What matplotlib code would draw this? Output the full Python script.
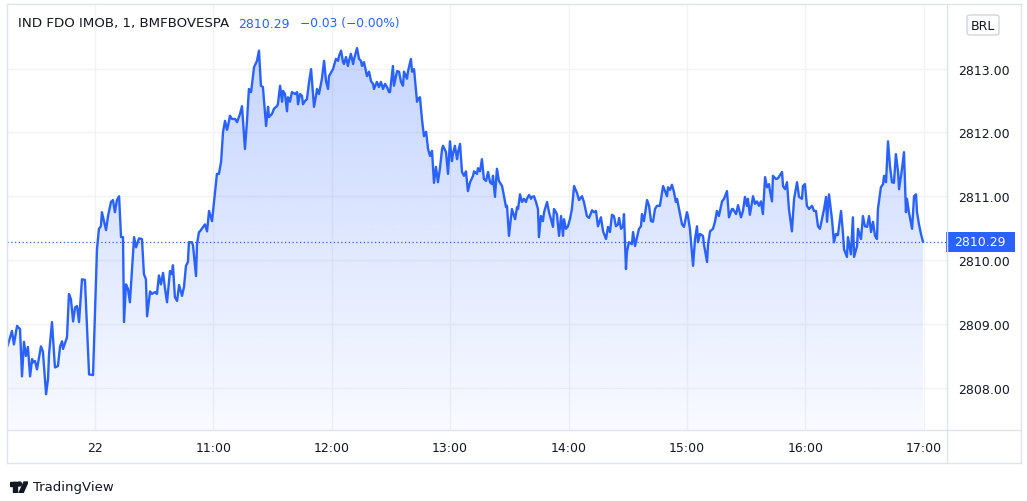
import numpy as np
import matplotlib
matplotlib.use("Agg")
import matplotlib.pyplot as plt
from matplotlib.patches import Rectangle, FancyBboxPatch

# minutes relative to 10:00 on the 22nd (previous session squeezed in on the left)
minutes = [
    -44.6, -44.1, -42.1, -41.1, -39.5, -38.0, -37.0, -36.0, -35.0, -34.0,
    -32.9, -31.9, -31.4, -30.4, -29.4, -27.4, -26.4, -24.8, -23.8, -23.3,
    -21.8, -20.3, -18.8, -17.7, -16.7, -16.2, -14.2, -13.2, -12.2, -11.1,
    -10.1, -9.1, -8.1, -6.6, -5.1, -3.0, -1.0, 1.0, 2.0, 3.0,
    3.5, 4.6, 5.6, 6.6, 8.1, 9.1, 10.1, 11.1, 12.2, 13.2,
    14.2, 14.7, 15.7, 16.7, 17.7, 19.8, 20.8, 22.3, 23.8, 24.8,
    25.8, 26.4, 27.9, 28.9, 30.4, 31.4, 32.4, 33.4, 34.5, 35.5,
    36.5, 38.0, 39.0, 39.5, 40.5, 41.6, 42.6, 44.1, 45.1, 46.1,
    47.1, 47.6, 49.2, 49.7, 51.2, 51.7, 52.7, 53.2, 55.7, 56.8,
    57.8, 59.3, 60.3, 61.8, 62.8, 63.9, 64.9, 65.9, 66.9, 67.4,
    68.4, 69.4, 71.0, 72.0, 73.5, 74.5, 76.0, 77.0, 78.0, 79.1,
    80.6, 82.1, 83.1, 84.1, 85.1, 86.7, 87.7, 88.2, 89.7, 90.7,
    92.2, 92.7, 93.8, 94.8, 95.3, 96.3, 97.3, 97.8, 98.8, 99.8,
    101.4, 102.4, 102.9, 103.9, 104.9, 105.4, 106.4, 107.4, 108.5, 109.5,
    111.0, 112.0, 112.5, 113.5, 115.0, 116.1, 117.1, 118.1, 118.6, 120.1,
    120.6, 122.1, 123.2, 123.7, 124.7, 125.7, 126.2, 127.2, 128.2, 128.7,
    129.7, 130.8, 131.3, 132.8, 133.8, 134.8, 135.3, 136.3, 137.3, 137.8,
    138.9, 139.9, 140.9, 141.4, 142.9, 143.9, 144.9, 146.0, 147.0, 148.0,
    149.0, 149.5, 151.0, 151.5, 153.1, 154.1, 155.1, 156.1, 156.6, 158.1,
    158.6, 160.1, 160.7, 161.7, 163.2, 163.7, 164.7, 165.7, 166.7, 167.8,
    168.8, 169.8, 170.8, 171.8, 172.8, 173.8, 174.8, 175.9, 176.4, 177.9,
    178.9, 179.9, 180.9, 181.4, 182.4, 183.5, 184.0, 185.0, 186.0, 187.0,
    188.0, 189.0, 190.1, 191.6, 192.1, 193.6, 194.1, 195.1, 196.1, 197.1,
    198.2, 199.2, 200.2, 201.2, 201.7, 202.7, 203.7, 204.7, 206.3, 207.3,
    208.3, 208.8, 209.8, 211.3, 211.8, 212.9, 213.9, 214.4, 215.4, 216.4,
    217.4, 218.4, 218.9, 220.0, 221.0, 221.5, 222.5, 223.5, 224.5, 225.0,
    226.0, 227.0, 227.6, 229.1, 230.1, 231.1, 232.1, 232.6, 233.6, 234.1,
    235.2, 236.2, 237.2, 237.7, 238.7, 239.7, 240.7, 241.7, 242.8, 244.3,
    245.3, 246.8, 247.8, 249.3, 250.4, 251.9, 252.9, 253.9, 254.9, 256.4,
    257.5, 259.0, 260.0, 261.0, 262.0, 263.0, 264.0, 265.1, 265.6, 266.6,
    267.6, 268.1, 269.1, 269.6, 270.6, 272.1, 272.7, 273.7, 274.7, 275.7,
    276.7, 277.2, 278.2, 279.8, 280.8, 281.8, 282.8, 283.8, 284.8, 286.3,
    287.9, 288.9, 289.9, 290.4, 291.4, 292.4, 293.4, 294.4, 295.0, 296.0,
    297.5, 298.5, 300.0, 300.5, 301.5, 303.1, 304.1, 305.1, 305.6, 306.6,
    308.1, 308.6, 310.2, 310.7, 311.7, 313.2, 314.2, 315.2, 316.2, 317.8,
    318.8, 320.3, 321.3, 322.8, 323.3, 324.9, 325.9, 327.4, 328.4, 329.4,
    330.4, 330.9, 331.9, 333.5, 334.5, 335.5, 336.5, 337.5, 338.5, 339.6,
    340.6, 341.6, 342.1, 343.1, 343.6, 345.1, 346.1, 348.2, 348.7, 349.7,
    350.7, 351.7, 353.2, 354.3, 355.8, 356.8, 358.3, 358.8, 359.8, 360.8,
    361.9, 363.4, 364.4, 365.4, 366.4, 367.4, 368.4, 369.5, 370.5, 371.0,
    372.0, 373.5, 374.5, 375.5, 376.5, 378.1, 379.1, 379.6, 381.1, 381.6,
    383.1, 384.1, 384.7, 386.2, 386.7, 388.2, 389.2, 390.2, 391.3, 392.3,
    393.3, 394.3, 395.3, 396.3, 396.8, 398.3, 399.4, 399.9, 400.9, 401.9,
    402.9, 403.9, 404.9, 405.9, 407.0, 407.5, 409.0, 410.0, 411.0, 411.5,
    412.5, 414.1, 415.1, 416.1, 416.6, 417.6, 418.6, 419.6,
]

prices = [
    2808.64, 2808.68, 2808.89, 2808.68, 2808.97, 2808.92, 2808.18, 2808.72, 2808.50, 2808.64,
    2808.18, 2808.45, 2808.40, 2808.42, 2808.29, 2808.65, 2808.57, 2807.90, 2808.14, 2808.53,
    2809.03, 2808.32, 2808.34, 2808.65, 2808.73, 2808.61, 2808.79, 2809.47, 2809.39, 2809.04,
    2809.26, 2809.28, 2809.03, 2809.70, 2809.69, 2808.21, 2808.20, 2810.17, 2810.49, 2810.53,
    2810.75, 2810.60, 2810.47, 2810.69, 2810.91, 2810.94, 2810.75, 2810.94, 2811.00, 2810.36,
    2810.36, 2809.03, 2809.62, 2809.55, 2809.34, 2810.36, 2810.20, 2810.34, 2810.33, 2809.78,
    2809.70, 2809.12, 2809.51, 2809.47, 2809.50, 2809.47, 2809.76, 2809.62, 2809.80, 2809.55,
    2809.34, 2809.83, 2809.78, 2809.92, 2809.42, 2809.36, 2809.61, 2809.44, 2809.58, 2809.91,
    2809.97, 2810.28, 2810.28, 2810.22, 2809.75, 2810.25, 2810.44, 2810.45, 2810.56, 2810.45,
    2810.77, 2810.61, 2810.91, 2811.35, 2811.35, 2811.54, 2812.01, 2812.18, 2812.04, 2812.10,
    2812.26, 2812.21, 2812.21, 2812.16, 2812.29, 2812.41, 2811.74, 2812.16, 2812.68, 2812.63,
    2813.02, 2813.12, 2813.28, 2812.73, 2812.71, 2812.10, 2812.40, 2812.24, 2812.29, 2812.37,
    2812.41, 2812.44, 2812.73, 2812.48, 2812.65, 2812.60, 2812.33, 2812.55, 2812.48, 2812.63,
    2812.60, 2812.63, 2812.44, 2812.60, 2812.57, 2812.44, 2812.49, 2812.52, 2812.79, 2812.99,
    2812.40, 2812.57, 2812.68, 2812.60, 2812.84, 2813.12, 2812.80, 2812.68, 2812.88, 2812.96,
    2812.99, 2813.15, 2813.12, 2813.20, 2813.28, 2813.10, 2813.07, 2813.18, 2813.04, 2813.12,
    2813.23, 2813.07, 2813.15, 2813.32, 2813.15, 2813.12, 2813.04, 2813.10, 2812.96, 2812.88,
    2812.95, 2812.80, 2812.76, 2812.68, 2812.79, 2812.71, 2812.79, 2812.68, 2812.76, 2812.71,
    2812.63, 2812.63, 2813.04, 2812.73, 2812.96, 2812.95, 2812.79, 2812.73, 2812.95, 2812.84,
    2812.95, 2813.15, 2812.95, 2812.99, 2812.48, 2812.52, 2812.55, 2812.21, 2811.94, 2812.01,
    2811.74, 2811.63, 2811.71, 2811.21, 2811.46, 2811.22, 2811.43, 2811.74, 2811.79, 2811.69,
    2811.35, 2811.86, 2811.55, 2811.66, 2811.79, 2811.58, 2811.69, 2811.82, 2811.38, 2811.32,
    2811.39, 2811.08, 2811.22, 2811.32, 2811.39, 2811.35, 2811.44, 2811.39, 2811.58, 2811.27,
    2811.24, 2811.38, 2811.22, 2811.19, 2811.32, 2810.99, 2811.43, 2811.24, 2811.16, 2811.00,
    2810.83, 2810.85, 2810.38, 2810.80, 2810.75, 2810.64, 2810.83, 2810.80, 2811.03, 2810.91,
    2810.96, 2810.91, 2810.96, 2811.02, 2810.96, 2810.99, 2811.00, 2810.91, 2810.80, 2810.36,
    2810.69, 2810.61, 2810.75, 2810.91, 2810.75, 2810.64, 2810.52, 2810.80, 2810.75, 2810.72,
    2810.38, 2810.69, 2810.38, 2810.64, 2810.49, 2810.53, 2810.64, 2810.80, 2811.16, 2811.05,
    2810.94, 2811.00, 2810.91, 2810.69, 2810.66, 2810.78, 2810.75, 2810.77, 2810.53, 2810.67,
    2810.45, 2810.33, 2810.52, 2810.44, 2810.71, 2810.69, 2810.53, 2810.56, 2810.66, 2810.49,
    2810.53, 2810.72, 2809.86, 2810.13, 2810.28, 2810.25, 2810.44, 2810.22, 2810.36, 2810.49,
    2810.53, 2810.72, 2810.61, 2810.94, 2810.85, 2810.61, 2810.60, 2810.80, 2810.85, 2810.85,
    2811.16, 2811.08, 2811.00, 2811.14, 2811.10, 2811.18, 2811.07, 2810.91, 2810.96, 2810.80,
    2810.56, 2810.52, 2810.75, 2810.69, 2810.49, 2809.91, 2810.33, 2810.53, 2810.28, 2810.41,
    2810.38, 2810.25, 2809.97, 2810.25, 2810.45, 2810.49, 2810.60, 2810.77, 2810.69, 2810.92,
    2810.96, 2811.08, 2810.67, 2810.80, 2810.80, 2810.72, 2810.86, 2810.67, 2810.77, 2810.99,
    2810.85, 2810.96, 2810.71, 2811.00, 2810.88, 2810.92, 2810.85, 2810.92, 2810.72, 2811.30,
    2811.14, 2811.19, 2811.08, 2810.92, 2811.32, 2811.27, 2811.28, 2811.38, 2811.16, 2811.11,
    2811.22, 2810.80, 2810.45, 2810.96, 2811.22, 2810.99, 2810.96, 2811.16, 2811.19, 2810.85,
    2810.80, 2810.85, 2810.77, 2810.77, 2810.53, 2810.49, 2810.64, 2810.80, 2810.99, 2810.60,
    2811.03, 2810.64, 2810.28, 2810.41, 2810.39, 2810.77, 2810.41, 2810.17, 2810.05, 2810.36,
    2810.09, 2810.67, 2810.05, 2810.22, 2810.49, 2810.33, 2810.69, 2810.53, 2810.52, 2810.69,
    2810.44, 2810.60, 2810.38, 2810.33, 2810.80, 2811.14, 2811.19, 2811.32, 2811.22, 2811.86,
    2811.47, 2811.22, 2811.21, 2811.66, 2811.38, 2811.11, 2811.43, 2811.69, 2810.75, 2810.96,
    2810.75, 2810.49, 2811.00, 2811.03, 2810.75, 2810.56, 2810.41, 2810.29,
]

time_ticks = [0, 60, 120, 180, 240, 300, 360, 420]
time_labels = ["22", "11:00", "12:00", "13:00", "14:00", "15:00", "16:00", "17:00"]
price_ticks = [2808, 2809, 2810, 2811, 2812, 2813]

symbol = "IND FDO IMOB, 1, BMFBOVESPA"
last_price = 2810.29
change = "\u22120.03 (\u22120.00%)"

BLUE = "#2962FF"
TEXT = "#131722"
GRID = "#F2F3F6"
BORDER = "#E0E3EB"

W, H = 1027, 502
fig = plt.figure(figsize=(W / 100, H / 100), dpi=100)
fig.patch.set_facecolor("white")


def fx(px):
    return px / W


def fy(py):
    return 1 - py / H


# plot pane: x 7..947, y 5..431 (pixels)
ax = fig.add_axes([fx(7), fy(431), fx(947) - fx(7), fy(5) - fy(431)])
xmin, xmax = -44.6, 431.8
ymin, ymax = 2807.34, 2814.01
ax.set_xlim(xmin, xmax)
ax.set_ylim(ymin, ymax)

for s in ax.spines.values():
    s.set_visible(False)

ax.set_xticks(time_ticks)
ax.set_xticklabels(time_labels)
ax.set_yticks(price_ticks)
ax.set_yticklabels([f"{v:.2f}" for v in price_ticks])
ax.yaxis.tick_right()
ax.tick_params(axis="x", length=0, pad=8, labelsize=9, labelcolor=TEXT)
ax.tick_params(axis="y", length=0, pad=8, labelsize=9, labelcolor=TEXT)
ax.grid(True, color=GRID, linewidth=1)
ax.set_axisbelow(True)

# gradient area under the line
poly = ax.fill_between(minutes, prices, ymin, facecolor="none", edgecolor="none")
n = 256
alphas = np.linspace(0.03, 0.27, n)
grad = np.zeros((n, 1, 4))
grad[:, 0, 0] = 41 / 255
grad[:, 0, 1] = 98 / 255
grad[:, 0, 2] = 1.0
grad[:, 0, 3] = alphas
img = ax.imshow(grad, extent=[xmin, xmax, ymin, 2813.4], origin="lower",
                aspect="auto", zorder=1, interpolation="bilinear")
img.set_clip_path(poly.get_paths()[0], transform=ax.transData)
ax.set_xlim(xmin, xmax)
ax.set_ylim(ymin, ymax)

ax.plot(minutes, prices, color=BLUE, linewidth=1.7, zorder=3,
        solid_joinstyle="round")
ax.axhline(last_price, color=BLUE, linewidth=0.9, linestyle=(0, (1, 2)), zorder=2)

# frame and separators
lines = [
    ([7, 1021], [5, 5]), ([7, 1021], [464, 464]),
    ([7, 7], [5, 464]), ([1021, 1021], [5, 464]),
    ([947, 947], [5, 464]), ([7, 1021], [431, 431]),
]
for xs, ys in lines:
    fig.add_artist(plt.Line2D([fx(x) for x in xs], [fy(y) for y in ys],
                              color=BORDER, linewidth=1))

# header legend
fig.text(fx(18), fy(24), symbol, fontsize=9.6, color=TEXT, va="center")
fig.text(fx(238), fy(24), f"{last_price:.2f}", fontsize=9, color=BLUE, va="center")
fig.text(fx(300), fy(24), change, fontsize=8.8, color=BLUE, va="center")

# currency badge
fig.add_artist(FancyBboxPatch((fx(967), fy(36)), fx(32), fy(16) - fy(36),
                              boxstyle="round,pad=0,rounding_size=0.004",
                              transform=fig.transFigure, facecolor="white",
                              edgecolor="#D1D4DC", linewidth=1))
fig.text(fx(983), fy(26), "BRL", fontsize=9, color=TEXT, ha="center", va="center")

# last price label
fig.add_artist(Rectangle((fx(946), fy(253)), fx(69), fy(233) - fy(253),
                         transform=fig.transFigure, facecolor=BLUE,
                         edgecolor="none"))
fig.text(fx(980), fy(243), f"{last_price:.2f}", fontsize=9, color="white",
         ha="center", va="center")

# TradingView mark
logo_ax = fig.add_axes([fx(10), fy(494), fx(18), fy(482) - fy(494)])
logo_ax.set_xlim(0, 18)
logo_ax.set_ylim(0, 12)
logo_ax.axis("off")
logo_ax.add_patch(Rectangle((0, 7), 7, 4, color=TEXT))
logo_ax.add_patch(Rectangle((3, 0), 4, 11, color=TEXT))
logo_ax.add_patch(plt.Circle((9.5, 9), 2, color=TEXT))
logo_ax.add_patch(plt.Polygon([[9, 0], [13, 0], [18, 11], [14, 11]], color=TEXT))
fig.text(fx(33), fy(488), "TradingView", fontsize=9.5, color=TEXT, va="center")

fig.savefig("out.png", dpi=100)
